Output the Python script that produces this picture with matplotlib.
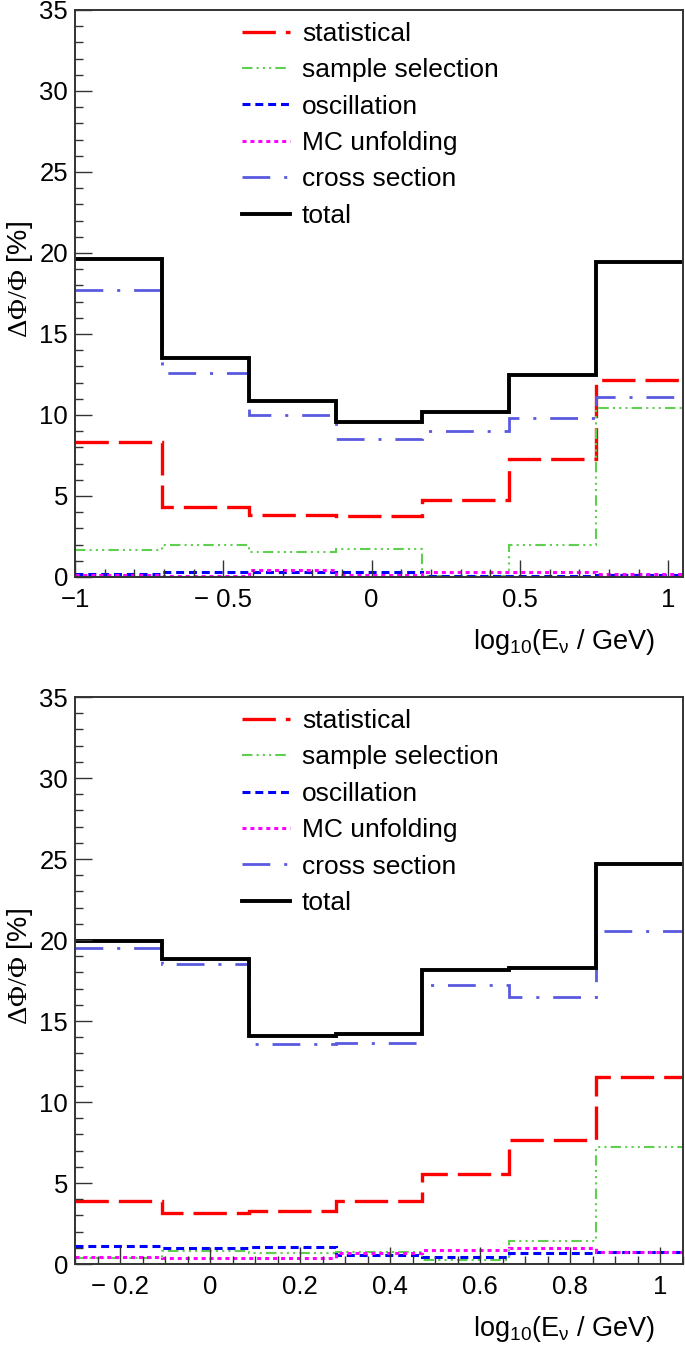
import matplotlib
matplotlib.use('Agg')
import matplotlib.pyplot as plt
from matplotlib.ticker import MultipleLocator

plt.rcParams['font.family'] = ['Liberation Sans', 'DejaVu Sans']
plt.rcParams['mathtext.fontset'] = 'custom'
plt.rcParams['mathtext.rm'] = 'Liberation Serif'
plt.rcParams['mathtext.default'] = 'regular'

labels = ['statistical', 'sample selection', 'oscillation', 'MC unfolding', 'cross section', 'total']

# upper panel
top_edges = [-1.0, -0.707, -0.414, -0.121, 0.171, 0.464, 0.757, 1.05]
top_stat = [8.3, 4.3, 3.8, 3.75, 4.75, 7.3, 12.15]
top_sel = [1.65, 1.95, 1.55, 1.7, 0.05, 1.95, 10.4]
top_osc = [0.2, 0.33, 0.32, 0.32, 0.03, 0.03, 0.13]
top_mc = [0.1, 0.03, 0.42, 0.13, 0.3, 0.33, 0.16]
top_xsec = [17.7, 12.6, 10.0, 8.5, 9.0, 9.8, 11.1]
top_total = [19.6, 13.5, 10.85, 9.55, 10.2, 12.45, 19.45]
top_ticks = [-1, -0.5, 0, 0.5, 1]
top_ticklabels = ['\u22121', '\u2212 0.5', '0', '0.5', '1']

# lower panel
bot_edges = [-0.3, -0.107, 0.086, 0.279, 0.471, 0.664, 0.857, 1.05]
bot_stat = [3.9, 3.15, 3.3, 3.9, 5.55, 7.65, 11.55]
bot_sel = [0.35, 0.78, 0.7, 0.75, 0.25, 1.4, 7.2]
bot_osc = [1.1, 0.97, 1.05, 0.55, 0.45, 0.7, 0.72]
bot_mc = [0.45, 0.4, 0.4, 0.65, 0.85, 1.0, 0.72]
bot_xsec = [19.5, 18.5, 13.6, 13.65, 17.2, 16.5, 20.55]
bot_total = [19.95, 18.8, 14.05, 14.2, 18.15, 18.3, 24.7]
bot_ticks = [-0.2, 0, 0.2, 0.4, 0.6, 0.8, 1]
bot_ticklabels = ['\u2212 0.2', '0', '0.2', '0.4', '0.6', '0.8', '1']

colors = ['#ff0000', '#5fcf50', '#0000ff', '#ff00ff', '#5a5ae0', '#000000']
widths = [2.4, 1.5, 2.2, 2.2, 2.0, 2.8]
styles = [(0, (10, 3)), (0, (5, 2, 1, 2, 1, 2, 1, 2)), (0, (2.6, 1.6)),
          (0, (1.3, 1.3)), (0, (10, 5, 1.1, 5)), '-']


def draw_panel(ax, edges, series, ticks, ticklabels, minor_x):
    for vals, lab, c, lw, ls in zip(series, labels, colors, widths, styles):
        ax.stairs(vals, edges, baseline=None, color=c, linewidth=lw, linestyle=ls, label=lab)
    ax.set_xlim(edges[0], edges[-1])
    ax.set_ylim(0, 35)
    ax.set_xticks(ticks)
    ax.set_xticklabels(ticklabels)
    ax.xaxis.set_minor_locator(MultipleLocator(minor_x))
    ax.yaxis.set_major_locator(MultipleLocator(5))
    ax.yaxis.set_minor_locator(MultipleLocator(1))
    ax.tick_params(which='both', direction='in', top=False, right=False,
                   labelsize=18.5, color='#333333', width=1.0)
    ax.tick_params(which='major', length=12.5)
    ax.tick_params(which='minor', length=6)
    ax.tick_params(axis='x', pad=8)
    ax.tick_params(axis='y', pad=5)
    for sp in ax.spines.values():
        sp.set_linewidth(1.4)
        sp.set_color('#333333')
    ax.set_ylabel(r'$\mathrm{\Delta\Phi/\Phi}$ [%]', fontsize=20.5)
    ax.yaxis.set_label_coords(-0.066, 0.525)
    ax.set_xlabel('log$_{10}$(E$_{\\nu}$ / GeV)', fontsize=19.5, ha='right', va='baseline')
    ax.xaxis.set_label_coords(0.954, -0.127)
    ax.legend(loc='upper left', bbox_to_anchor=(0.275, 0.979), frameon=False,
              fontsize=19, handlelength=1.82, handletextpad=0.45,
              labelspacing=0.47, borderpad=0, borderaxespad=0)


fig = plt.figure(figsize=(6.85, 13.48), dpi=100)
ax1 = fig.add_axes([0.1095, 0.572, 0.8876, 0.4206])
ax2 = fig.add_axes([0.1095, 0.0623, 0.8876, 0.4206])

draw_panel(ax1, top_edges, [top_stat, top_sel, top_osc, top_mc, top_xsec, top_total],
           top_ticks, top_ticklabels, 0.1)
draw_panel(ax2, bot_edges, [bot_stat, bot_sel, bot_osc, bot_mc, bot_xsec, bot_total],
           bot_ticks, bot_ticklabels, 0.05)

fig.savefig('out.png', dpi=100)
